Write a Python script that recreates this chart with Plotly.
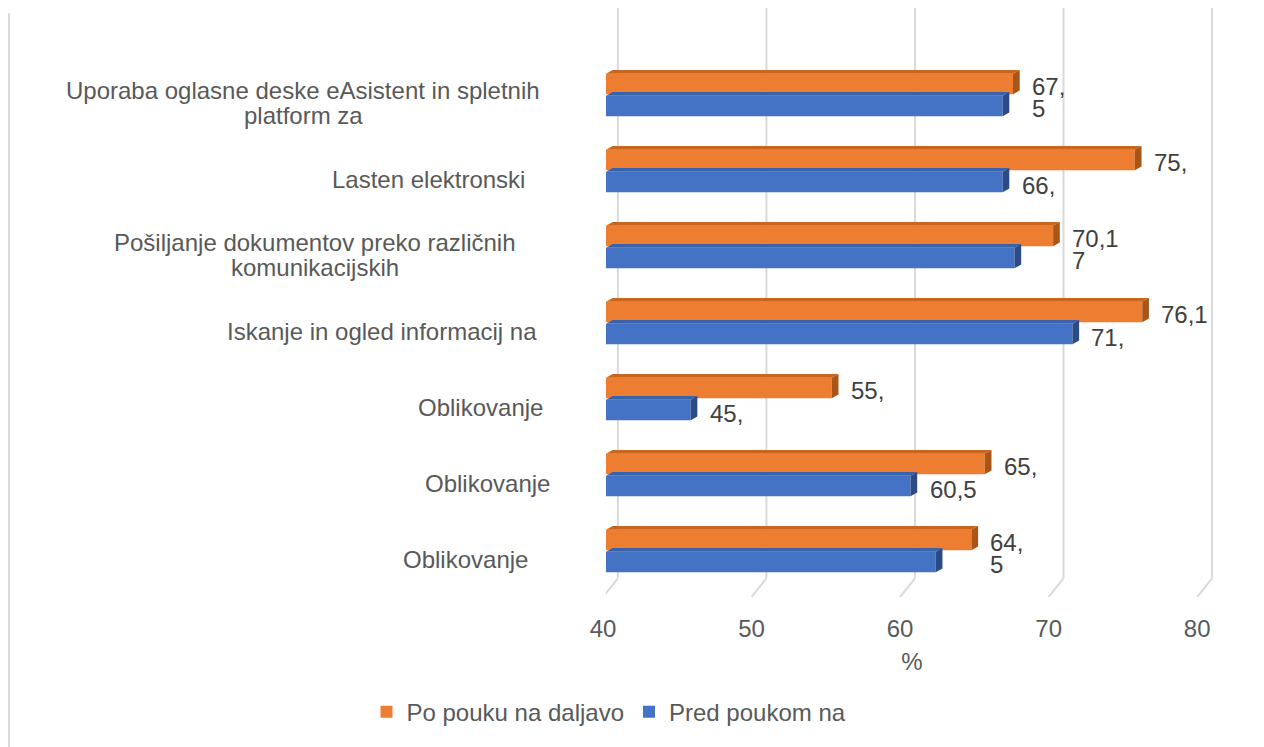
import plotly.graph_objects as go

# --- data -----------------------------------------------------------------
categories = [
    "Uporaba oglasne deske eAsistent in spletnih\nplatform za",
    "Lasten elektronski",
    "Pošiljanje dokumentov preko različnih\nkomunikacijskih",
    "Iskanje in ogled informacij na",
    "Oblikovanje",
    "Oblikovanje",
    "Oblikovanje",
]
po_pouku = [67.4, 75.6, 70.1, 76.1, 55.2, 65.5, 64.6]
pred_poukom = [66.7, 66.7, 67.5, 71.4, 45.7, 60.5, 62.2]
po_labels = ["67,\n5", "75,", "70,1\n7", "76,1", "55,", "65,", "64,\n5"]
pred_labels = ["", "66,", "", "71,", "45,", "60,5", ""]
x_ticks = [40, 50, 60, 70, 80]

# --- styling / layout constants ---------------------------------------------
ORANGE, ORANGE_TOP, ORANGE_SIDE = "#ed7d31", "#c8661f", "#a85517"
BLUE, BLUE_TOP, BLUE_SIDE = "#4472c4", "#3a62ab", "#2c4a86"
TXT = "#595959"
FONT = "Liberation Sans, Arial, sans-serif"
FS = 24

PAGE_OFF = 8       # the html body margin
W, H = 1264 - PAGE_OFF, 747 - PAGE_OFF
X0, X1 = 40, 81.2
ML, MT = 606 - PAGE_OFF, 57 - PAGE_OFF
PW = round((X1 - X0) * 14.85)
PH = 536
MR = W - ML - PW
MB = H - MT - PH

# category label centre, in page px
label_cx = [303, 428, 315, 382, 480, 487, 465]

BW = 0.27           # bar thickness (category units)
D, DY = 0.45, 0.05  # 3D depth offset (x units, y units)

def px_x(p):
    return (p - PAGE_OFF - ML) / PW

def px_y(p):
    return (MT + PH - (p - PAGE_OFF)) / PH

ypos = list(range(len(categories)))

fig = go.Figure()
fig.add_bar(y=ypos, x=[v - 40 for v in po_pouku], base=40, orientation="h",
            width=BW, offset=-BW - 0.01, marker_color=ORANGE,
            marker_line_width=0, name="Po pouku na daljavo")
fig.add_bar(y=ypos, x=[v - 40 for v in pred_poukom], base=40, orientation="h",
            width=BW, offset=0.01, marker_color=BLUE,
            marker_line_width=0, name="Pred poukom na")

shapes = []
# back-wall gridlines with floor slant
for t in x_ticks:
    shapes.append(dict(type="line", xref="x", yref="paper", x0=t + 0.8, x1=t + 0.8,
                       y0=0.02, y1=px_y(4), line=dict(color="#d9d9d9", width=2),
                       layer="below"))
    shapes.append(dict(type="line", xref="x", yref="paper", x0=t + 0.8, x1=t - 0.2,
                       y0=0.02, y1=-0.015, line=dict(color="#d9d9d9", width=2),
                       layer="below"))

# 3D top and side faces of the bars
def faces(vals, off, top_c, side_c):
    out = []
    for i, v in enumerate(vals):
        y_top = i + off
        y_bot = i + off + BW
        out.append(dict(type="path", xref="x", yref="y", line_width=0, fillcolor=top_c,
                        path=f"M40,{y_top} L{40 + D},{y_top - DY} L{v + D},{y_top - DY} L{v},{y_top} Z"))
        out.append(dict(type="path", xref="x", yref="y", line_width=0, fillcolor=side_c,
                        path=f"M{v},{y_top} L{v + D},{y_top - DY} L{v + D},{y_bot - DY} L{v},{y_bot} Z"))
    return out

shapes += faces(po_pouku, -BW - 0.01, ORANGE_TOP, ORANGE_SIDE)
shapes += faces(pred_poukom, 0.01, BLUE_TOP, BLUE_SIDE)

# outer chart border
for xp in [px_x(PAGE_OFF + 1), px_x(1257)]:
    shapes.append(dict(type="line", xref="paper", yref="paper", x0=xp, x1=xp,
                       y0=px_y(13), y1=px_y(760),
                       line=dict(color="#d9d9d9", width=2)))

annotations = []
# category labels
for i, (txt, cx) in enumerate(zip(categories, label_cx)):
    lines = txt.split("\n")
    shifts = [5, -20] if len(lines) == 2 else [-8]
    for ln, ys in zip(lines, shifts):
        annotations.append(dict(xref="paper", yref="y", x=px_x(cx), y=i,
                                text=ln, showarrow=False, xanchor="center",
                                yanchor="middle", yshift=ys,
                                font=dict(size=FS, color=TXT, family=FONT)))

# data labels
def data_labels(vals, labels, yc):
    out = []
    for i, (v, lab) in enumerate(zip(vals, labels)):
        for k, ln in enumerate(lab.split("\n")):
            if not ln:
                continue
            out.append(dict(xref="x", yref="y", x=v, y=i + yc, text=ln,
                            showarrow=False, xanchor="left", yanchor="middle",
                            xshift=17, yshift=-3 - 22 * k,
                            font=dict(size=FS, color="#404040", family=FONT)))
    return out

annotations += data_labels(po_pouku, po_labels, -BW / 2 - 0.01)
annotations += data_labels(pred_poukom, pred_labels, BW / 2 + 0.01)

fig.update_layout(
    width=W, height=H,
    margin=dict(l=ML, r=MR, t=MT, b=MB),
    paper_bgcolor="white", plot_bgcolor="white",
    font=dict(family=FONT, size=FS, color=TXT),
    barmode="overlay",
    showlegend=True,
    legend=dict(orientation="h", x=px_x(609), xanchor="center", y=px_y(717),
                yanchor="middle", font=dict(size=FS, color=TXT),
                itemwidth=30, traceorder="normal"),
    shapes=shapes,
    annotations=annotations,
)
fig.update_xaxes(range=[X0, X1], tickvals=x_ticks, showgrid=False, zeroline=False,
                 showline=False, ticks="outside", ticklen=18,
                 tickcolor="rgba(0,0,0,0)", ticklabelshift=-3,
                 tickfont=dict(size=FS, color=TXT),
                 title=dict(text="%", standoff=12, font=dict(size=FS, color=TXT)))
fig.update_yaxes(range=[len(categories) - 0.5, -0.5], showticklabels=False,
                 showgrid=False, zeroline=False, showline=False)

fig.write_html("out.html")
